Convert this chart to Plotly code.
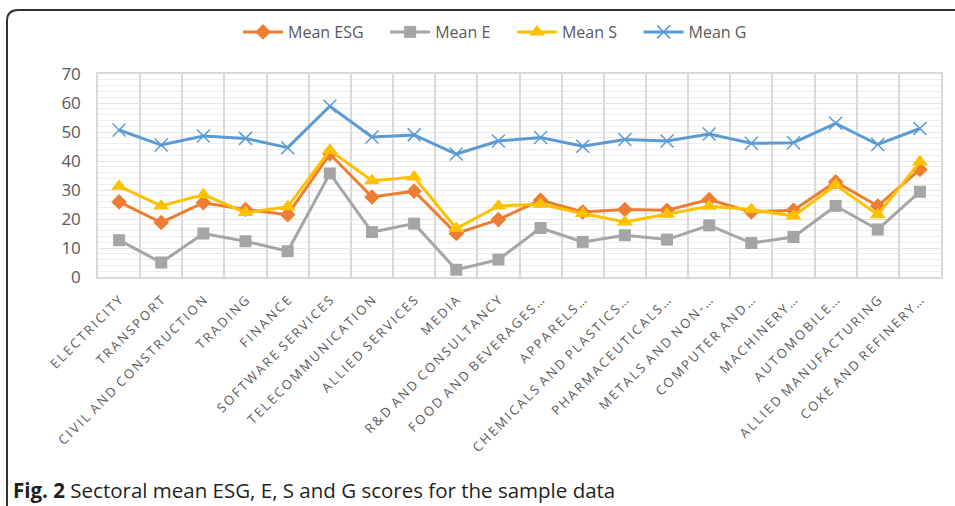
import plotly.graph_objects as go

categories = [
    "ELECTRICITY", "TRANSPORT", "CIVIL AND CONSTRUCTION", "TRADING", "FINANCE",
    "SOFTWARE SERVICES", "TELECOMMUNICATION", "ALLIED SERVICES", "MEDIA",
    "R&D AND CONSULTANCY", "FOOD AND BEVERAGES…", "APPARELS…",
    "CHEMICALS AND PLASTICS…", "PHARMACEUTICALS…", "METALS AND NON-…",
    "COMPUTER AND…", "MACHINERY…", "AUTOMOBILE…", "ALLIED MANUFACTURING",
    "COKE AND REFINERY…",
]

mean_esg = [25.9, 18.8, 25.6, 23.3, 21.5, 42.4, 27.6, 29.6, 15.0, 19.8,
            26.5, 22.4, 23.3, 23.0, 26.7, 22.4, 23.0, 32.8, 24.5, 37.1]
mean_e = [12.7, 5.0, 15.0, 12.3, 8.9, 35.7, 15.5, 18.4, 2.5, 6.0,
          16.9, 12.1, 14.4, 12.9, 17.8, 11.7, 13.8, 24.5, 16.4, 29.4]
mean_s = [31.3, 24.5, 28.4, 22.2, 24.2, 43.7, 33.2, 34.5, 16.7, 24.5,
          25.1, 21.9, 19.0, 21.6, 24.4, 23.3, 21.0, 31.7, 21.5, 39.7]
mean_g = [50.7, 45.5, 48.6, 47.8, 44.6, 58.9, 48.3, 49.0, 42.4, 46.9,
          48.1, 45.1, 47.4, 46.9, 49.3, 46.1, 46.3, 53.0, 45.7, 51.2]

y_ticks = [0, 10, 20, 30, 40, 50, 60, 70]

W, H = 955, 506
L, R, T, B = 98, 14, 74, 229
PW, PH = W - L - R, H - T - B


def px_x(p):
    return (p - L) / PW


def px_y(p):
    return (H - B - p) / PH


def spaced(label):
    sep = "\u2009"
    words = label.split(" ")
    return (sep + " ").join(sep.join(list(w)) for w in words)


pad = "\u00a0\u00a0\u00a0\u00a0"
series = [
    ("Mean ESG", mean_esg, "#ED7D31", dict(symbol="diamond", size=12)),
    ("Mean E", mean_e, "#A5A5A5", dict(symbol="square", size=12)),
    ("Mean S", mean_s, "#FFC000", dict(symbol="triangle-up", size=14)),
    ("Mean G", mean_g, "#5B9BD5", dict(symbol="x-thin", size=13,
                                       line=dict(width=1.5, color="#5B9BD5"))),
]

fig = go.Figure()
for name, vals, color, mk in series:
    marker = dict(color=color, **mk)
    fig.add_trace(go.Scatter(
        x=categories, y=vals, name=name + pad, mode="lines+markers",
        line=dict(color=color, width=3), marker=marker,
    ))

fig.update_xaxes(
    type="category", tickson="boundaries", showgrid=True,
    range=[-0.5, len(categories) - 0.5],
    gridcolor="#D9D9D9", gridwidth=1.5,
    showline=True, linecolor="#D9D9D9", linewidth=1.5, mirror=True,
    tickangle=-45, ticks="", ticklabelstandoff=9,
    tickmode="array", tickvals=categories,
    ticktext=[spaced(c) for c in categories],
    tickfont=dict(family="Open Sans", size=13, color="#595959"),
)
fig.update_yaxes(
    range=[0, 70], tickvals=y_ticks, showgrid=True,
    gridcolor="#E4E4E4", gridwidth=1,
    minor=dict(dtick=2, showgrid=True, gridcolor="#EDEDED", gridwidth=1),
    showline=True, linecolor="#D9D9D9", linewidth=1.5, mirror=True,
    zeroline=False, ticks="", ticklabelstandoff=12,
    tickfont=dict(family="Open Sans", size=17, color="#595959"),
)

# rounded outer frame
x0 = px_x(7)
yt = px_y(10)
rx = 11 / PW
ry = 11 / PH
path = (f"M {x0},{px_y(520)} L {x0},{yt - ry} Q {x0},{yt} {x0 + rx},{yt} "
        f"L {px_x(970)},{yt}")
fig.add_shape(type="path", xref="paper", yref="paper", path=path,
              line=dict(color="#333333", width=2))

fig.add_annotation(
    xref="paper", yref="paper", x=px_x(11), y=px_y(490),
    xanchor="left", yanchor="middle", showarrow=False,
    text="<b>Fig. 2</b> Sectoral mean ESG, E, S and G scores for the sample data",
    font=dict(family="Open Sans", size=20.5, color="#231F20"),
)

fig.update_layout(
    width=W, height=H,
    margin=dict(l=L, r=R, t=T, b=B, autoexpand=False),
    paper_bgcolor="white", plot_bgcolor="white",
    showlegend=True,
    legend=dict(orientation="h", x=px_x(238),
                xanchor="left", y=px_y(32), yanchor="middle",
                font=dict(family="Open Sans", size=16, color="#595959"),
                itemwidth=40, traceorder="normal", bgcolor="rgba(0,0,0,0)"),
)

fig.write_html("out.html",
               config={"displayModeBar": False},
               post_script="document.body.style.margin='0';"
                           "document.body.style.padding='0';")
